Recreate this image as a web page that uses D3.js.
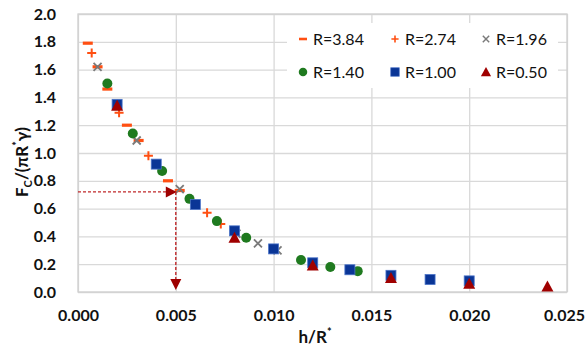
<!DOCTYPE html>
<html>
<head>
<meta charset="utf-8">
<script src="https://cdn.jsdelivr.net/npm/d3@7"></script>
<style>
  body { margin: 0; background: #fff; }
  text { font-family: Lato, "Open Sans", sans-serif; fill: #111; }
  .grid line { stroke: #d9d9d9; stroke-width: 1.3; }
  .tick-label { font-size: 16px; font-weight: bold; }
  .legend-label { font-size: 16px; }
  .axis-title { font-size: 17px; font-weight: bold; }
</style>
</head>
<body>
<div id="chart"></div>
<script>
const xTicks = [0, 0.005, 0.010, 0.015, 0.020, 0.025];
const yTicks = [0, 0.2, 0.4, 0.6, 0.8, 1.0, 1.2, 1.4, 1.6, 1.8, 2.0];

const r384 = [[0.0005, 1.79], [0.0010, 1.62], [0.0015, 1.46], [0.0025, 1.20],
  [0.0031, 1.09], [0.0046, 0.80], [0.0052, 0.73]];
const r274 = [[0.0007, 1.72], [0.0021, 1.29], [0.0036, 0.98], [0.0066, 0.57],
  [0.0073, 0.49]];
const r196 = [[0.0010, 1.62], [0.0030, 1.09], [0.0052, 0.74], [0.0081, 0.42],
  [0.0092, 0.35], [0.0102, 0.30]];
const r140 = [[0.0015, 1.50], [0.0028, 1.14], [0.0043, 0.87], [0.0057, 0.67],
  [0.0071, 0.51], [0.0086, 0.39], [0.0114, 0.23], [0.0129, 0.18], [0.0143, 0.15]];
const r100 = [[0.0020, 1.35], [0.0040, 0.92], [0.0060, 0.63], [0.0080, 0.44],
  [0.0100, 0.31], [0.0120, 0.21], [0.0139, 0.16], [0.0160, 0.12], [0.0180, 0.09],
  [0.0200, 0.08]];
const r050 = [[0.0020, 1.34], [0.0080, 0.39], [0.0120, 0.19], [0.0160, 0.10],
  [0.0200, 0.06], [0.0240, 0.04]];

// reading guide: h/R* = 0.005 at Fc = 0.72
const guide = [0.005, 0.72];
const guideEndY = 0.05;

const series = [
  { label: 'R=3.84', data: r384, shape: 'dash', color: '#ff4f12' },
  { label: 'R=2.74', data: r274, shape: 'plus', color: '#ff4f12' },
  { label: 'R=1.96', data: r196, shape: 'cross', color: '#7a7a7a' },
  { label: 'R=1.40', data: r140, shape: 'circle', color: '#1f7a1f' },
  { label: 'R=1.00', data: r100, shape: 'square', color: '#0a3596' },
  { label: 'R=0.50', data: r050, shape: 'triangle', color: '#a00000' },
];

const W = 586, H = 352;
const margin = { top: 14, right: 19, bottom: 60, left: 78 };
const width = W - margin.left - margin.right;
const height = H - margin.top - margin.bottom;

const svg = d3.select('#chart').append('svg')
  .attr('width', W).attr('height', H);

const chart = svg.append('g')
  .attr('transform', `translate(${margin.left},${margin.top})`);

const x = d3.scaleLinear().domain([0, 0.025]).range([0, width]);
const y = d3.scaleLinear().domain([0, 2.0]).range([height, 0]);

// grid
chart.append('g').attr('class', 'grid')
  .call(d3.axisBottom(x).tickValues(xTicks).tickSize(height).tickFormat(''))
  .call((g) => g.select('.domain').remove());
chart.append('g').attr('class', 'grid')
  .call(d3.axisLeft(y).tickValues(yTicks).tickSize(-width).tickFormat(''))
  .call((g) => g.select('.domain').remove());

// tick labels
const xAxis = chart.append('g')
  .attr('transform', `translate(0,${height})`)
  .call(d3.axisBottom(x).tickValues(xTicks).tickSize(0).tickPadding(18)
    .tickFormat(d3.format('.3f')));
xAxis.select('.domain').remove();
xAxis.selectAll('text').attr('class', 'tick-label').attr('fill', '#111');
xAxis.selectAll('.tick:last-of-type text').attr('dx', '-3');

const yAxis = chart.append('g')
  .call(d3.axisLeft(y).tickValues(yTicks).tickSize(0).tickPadding(22)
    .tickFormat(d3.format('.1f')));
yAxis.select('.domain').remove();
yAxis.selectAll('text').attr('class', 'tick-label').attr('fill', '#111');

// legend box
const legend = chart.append('g');
legend.append('rect')
  .attr('x', 209).attr('y', 9).attr('width', 271).attr('height', 65)
  .attr('fill', '#fff');

const colX = [225, 317, 408];
const rowY = [25, 58];

function drawMarker(g, shape, color) {
  if (shape === 'dash') {
    g.append('rect').attr('x', -5).attr('y', -1.6).attr('width', 10).attr('height', 3.2)
      .attr('fill', color);
  } else if (shape === 'plus') {
    g.append('path').attr('d', 'M-4.5,0H4.5M0,-4.5V4.5')
      .attr('stroke', color).attr('stroke-width', 2).attr('fill', 'none');
  } else if (shape === 'cross') {
    g.append('path').attr('d', 'M-4,-4L4,4M-4,4L4,-4')
      .attr('stroke', color).attr('stroke-width', 1.8).attr('fill', 'none');
  } else if (shape === 'circle') {
    g.append('circle').attr('r', 5).attr('fill', color);
  } else if (shape === 'square') {
    g.append('rect').attr('x', -5).attr('y', -5).attr('width', 10).attr('height', 10)
      .attr('fill', color).attr('stroke', '#4a73c8').attr('stroke-width', 0.8);
  } else if (shape === 'triangle') {
    g.append('path').attr('d', 'M0,-6L6,5H-6Z').attr('fill', color);
  }
}

series.forEach((s, i) => {
  const cx = colX[i % 3];
  const cy = rowY[Math.floor(i / 3)];
  const lg = legend.append('g').attr('transform', `translate(${cx},${cy})`);
  const mk = lg.append('g');
  drawMarker(mk, s.shape, s.color);
  if (s.shape === 'dash') mk.attr('transform', 'scale(0.8)');
  if (s.shape === 'plus' || s.shape === 'cross') mk.attr('transform', 'scale(0.8)');
  if (s.shape === 'circle' || s.shape === 'square' || s.shape === 'triangle') {
    mk.attr('transform', 'scale(0.85)');
  }
  lg.append('text').attr('class', 'legend-label')
    .attr('x', 10).attr('dy', '0.35em').text(s.label);
});

// plot border (bottom + left + top + right)
chart.append('rect')
  .attr('width', width).attr('height', height)
  .attr('fill', 'none').attr('stroke', '#d0d0d0').attr('stroke-width', 1.3);

// series points
series.forEach((s) => {
  chart.append('g').selectAll('g')
    .data(s.data)
    .join('g')
    .attr('transform', (d) => `translate(${x(d[0])},${y(d[1])})`)
    .each(function () { drawMarker(d3.select(this), s.shape, s.color); });
});

// guide lines with arrows
const gx = x(guide[0]);
const gy = y(guide[1]);
chart.append('line')
  .attr('x1', x(0)).attr('y1', gy).attr('x2', gx - 6).attr('y2', gy)
  .attr('stroke', '#c0282a').attr('stroke-width', 1.4).attr('stroke-dasharray', '3,2');
chart.append('path')
  .attr('d', `M${gx - 10},${gy - 5.5}L${gx + 1},${gy}L${gx - 10},${gy + 5.5}Z`)
  .attr('fill', '#9e0000');
chart.append('line')
  .attr('x1', gx).attr('y1', gy).attr('x2', gx).attr('y2', y(guideEndY) - 4)
  .attr('stroke', '#c0282a').attr('stroke-width', 1.4).attr('stroke-dasharray', '3,2');
chart.append('path')
  .attr('d', `M${gx - 5.5},${y(guideEndY) - 6}L${gx + 5.5},${y(guideEndY) - 6}L${gx},${y(guideEndY) + 5}Z`)
  .attr('fill', '#9e0000');

// axis titles
const xt = svg.append('text').attr('class', 'axis-title')
  .attr('x', 315).attr('y', 343).attr('text-anchor', 'middle');
xt.append('tspan').text('h/R');
xt.append('tspan').attr('font-size', '11px').attr('dy', '-7').text('*');

const yt = svg.append('text').attr('class', 'axis-title')
  .attr('transform', `translate(28,${162}) rotate(-90)`)
  .attr('text-anchor', 'middle');
yt.append('tspan').text('F');
yt.append('tspan').attr('font-size', '11px').attr('dy', '4').text('C');
yt.append('tspan').attr('dy', '-4').text('/(πR');
yt.append('tspan').attr('font-size', '11px').attr('dy', '-7').text('*');
yt.append('tspan').attr('dy', '7').text('γ)');
</script>
</body>
</html>
